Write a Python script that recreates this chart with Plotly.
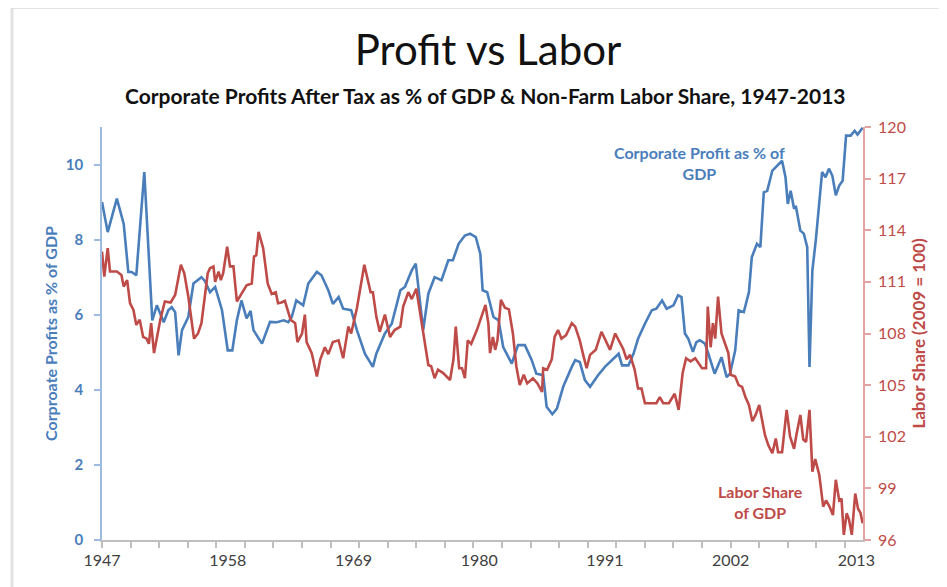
import plotly.graph_objects as go

# corporate profits after tax, % of GDP (left axis)
profit_year = [1947.0, 1947.5, 1948.3, 1948.9, 1949.3, 1949.6, 1950.0, 1950.7, 1951.4, 1951.8,
               1952.4, 1952.8, 1953.1, 1953.4, 1953.7, 1954.0, 1954.55, 1955.0, 1955.7, 1956.0,
               1956.45, 1956.9, 1957.5, 1958.0, 1958.4, 1958.8, 1959.2, 1959.65, 1960.0, 1960.25,
               1961.0, 1961.7, 1962.3, 1962.9, 1963.3, 1963.6, 1964.0, 1964.6, 1965.05, 1965.8,
               1966.2, 1966.8, 1967.2, 1967.7, 1968.1, 1968.8, 1969.3, 1970.0, 1970.7, 1971.0,
               1971.75, 1972.35, 1973.1, 1973.5, 1974.1, 1974.45, 1975.1, 1975.55, 1976.1, 1976.7,
               1977.3, 1977.7, 1978.2, 1978.75, 1979.2, 1979.7, 1980.1, 1980.3, 1980.7, 1981.25,
               1981.7, 1982.1, 1982.85, 1983.4, 1984.0, 1984.6, 1985.0, 1985.6, 1985.9, 1986.4,
               1986.8, 1987.35, 1988.1, 1988.4, 1988.8, 1989.25, 1989.7, 1990.4, 1991.0, 1991.6,
               1992.2, 1992.5, 1993.05, 1993.5, 1993.9, 1994.5, 1995.1, 1995.5, 1996.0, 1996.4,
               1997.0, 1997.4, 1997.7, 1998.0, 1998.3, 1998.7, 1999.0, 1999.3, 1999.75, 2000.05,
               2000.6, 2001.2, 2001.65, 2001.95, 2002.4, 2002.7, 2003.15, 2003.6, 2003.85, 2004.3,
               2004.6, 2004.9, 2005.2, 2005.65, 2006.1, 2006.5, 2006.8, 2007.0, 2007.25, 2007.55,
               2007.7, 2008.1, 2008.4, 2008.7, 2008.9, 2009.15, 2009.45, 2009.75, 2010.0, 2010.3,
               2010.6, 2010.9, 2011.2, 2011.5, 2011.8, 2012.1, 2012.5, 2012.85, 2013.1, 2013.55]
profit_pct = [9.0, 8.2, 9.09, 8.42, 7.14, 7.14, 7.05, 9.8, 5.85, 6.25,
              5.8, 6.12, 6.2, 6.07, 4.92, 5.59, 5.94, 6.83, 7.0, 6.9,
              6.6, 6.74, 6.12, 5.05, 5.05, 5.85, 6.38, 5.9, 6.1, 5.59,
              5.23, 5.81, 5.8, 5.85, 5.8, 5.94, 6.38, 6.25, 6.83, 7.14,
              7.05, 6.65, 6.29, 6.47, 6.16, 6.12, 5.59, 4.96, 4.61, 4.96,
              5.5, 5.76, 6.65, 6.74, 7.18, 7.36, 5.59, 6.56, 7.0, 6.92,
              7.45, 7.45, 7.89, 8.11, 8.16, 8.07, 7.62, 6.65, 6.6, 5.94,
              5.85, 5.14, 4.7, 5.19, 5.19, 4.79, 4.43, 4.39, 3.55, 3.35,
              3.5, 4.08, 4.61, 4.79, 4.74, 4.26, 4.08, 4.39, 4.61, 4.79,
              4.96, 4.65, 4.65, 4.96, 5.36, 5.76, 6.12, 6.16, 6.38, 6.16,
              6.25, 6.52, 6.47, 5.5, 5.36, 5.01, 5.27, 5.32, 5.23, 4.96,
              4.43, 4.87, 4.34, 4.43, 5.05, 6.12, 6.07, 6.6, 7.53, 7.89,
              7.8, 9.26, 9.3, 9.84, 9.97, 10.1, 9.66, 8.95, 9.3, 8.82,
              8.9, 8.24, 8.16, 7.8, 4.61, 7.18, 7.98, 8.95, 9.8, 9.66,
              9.89, 9.7, 9.18, 9.44, 9.57, 10.77, 10.77, 10.9, 10.8, 10.98]

# non-farm labor share index, 2009 = 100 (right axis)
labor_year = [1947.0, 1947.2, 1947.5, 1947.7, 1948.3, 1948.7, 1948.9, 1949.2, 1949.45, 1949.75,
              1950.0, 1950.3, 1950.6, 1950.9, 1951.1, 1951.3, 1951.55, 1952.1, 1952.5, 1953.0,
              1953.4, 1953.9, 1954.2, 1954.55, 1955.05, 1955.4, 1955.7, 1956.25, 1956.45, 1956.75,
              1956.9, 1957.2, 1957.4, 1957.6, 1957.95, 1958.2, 1958.5, 1958.8, 1959.2, 1959.65,
              1960.1, 1960.3, 1960.5, 1960.7, 1961.1, 1961.5, 1961.85, 1962.2, 1962.4, 1962.7,
              1963.0, 1963.5, 1963.9, 1964.1, 1964.5, 1964.75, 1964.9, 1965.35, 1965.8, 1966.1,
              1966.5, 1966.8, 1967.2, 1967.7, 1968.1, 1968.55, 1968.8, 1969.3, 1969.95, 1970.3,
              1970.5, 1970.7, 1971.0, 1971.3, 1971.75, 1972.2, 1972.6, 1973.1, 1973.35, 1973.8,
              1974.1, 1974.5, 1974.9, 1975.2, 1975.55, 1975.8, 1976.1, 1976.4, 1976.85, 1977.45,
              1977.75, 1977.95, 1978.25, 1978.5, 1978.75, 1979.0, 1979.3, 1979.8, 1980.2, 1980.55,
              1980.8, 1980.95, 1981.2, 1981.4, 1981.6, 1981.9, 1982.25, 1982.6, 1982.95, 1983.25,
              1983.55, 1983.9, 1984.2, 1984.7, 1985.1, 1985.5, 1985.6, 1985.95, 1986.35, 1986.6,
              1986.9, 1987.2, 1987.6, 1988.1, 1988.4, 1988.8, 1989.1, 1989.4, 1989.7, 1990.2,
              1990.7, 1991.1, 1991.45, 1991.9, 1992.2, 1992.6, 1992.9, 1993.2, 1993.6, 1993.9,
              1994.2, 1994.5, 1995.0, 1995.5, 1995.8, 1996.1, 1996.6, 1997.1, 1997.45, 1997.8,
              1998.1, 1998.5, 1998.9, 1999.5, 1999.85, 2000.0, 2000.25, 2000.45, 2000.65, 2000.9,
              2001.2, 2001.5, 2001.8, 2002.0, 2002.4, 2002.7, 2003.0, 2003.3, 2003.6, 2003.9,
              2004.2, 2004.5, 2004.75, 2005.0, 2005.3, 2005.65, 2005.95, 2006.15, 2006.5, 2006.9,
              2007.2, 2007.55, 2007.75, 2008.1, 2008.35, 2008.6, 2008.9, 2009.15, 2009.4, 2009.75,
              2010.1, 2010.35, 2010.65, 2010.95, 2011.2, 2011.5, 2011.7, 2011.9, 2012.15, 2012.35,
              2012.6, 2012.9, 2013.15, 2013.35, 2013.55]
labor_idx = [112.76, 111.3, 112.96, 111.6, 111.6, 111.4, 110.73, 111.1, 109.76, 109.37,
             108.5, 108.8, 107.8, 107.7, 107.4, 108.6, 106.86, 108.8, 109.86, 109.8,
             110.24, 111.99, 111.5, 110.15, 107.7, 108.0, 108.6, 111.5, 111.8, 111.9,
             111.0, 111.6, 111.1, 111.5, 113.05, 111.9, 111.9, 109.86, 110.3, 110.8,
             110.9, 112.47, 112.55, 113.9, 112.96, 110.9, 110.3, 110.4, 109.76, 109.8,
             109.9, 108.8, 108.6, 107.5, 108.0, 109.1, 107.5, 106.86, 105.5, 106.5,
             107.2, 106.8, 107.5, 107.6, 106.56, 108.4, 108.0, 109.47, 112.0, 110.9,
             110.4, 110.4, 108.98, 108.1, 109.1, 107.8, 108.2, 108.4, 109.56, 110.4,
             110.0, 110.6, 108.8, 107.6, 106.17, 106.1, 105.4, 105.9, 105.7, 105.3,
             106.5, 108.4, 105.98, 105.98, 105.4, 107.6, 107.4, 108.2, 109.0, 109.66,
             108.6, 106.86, 107.8, 107.05, 107.6, 109.95, 109.5, 109.4, 108.0, 106.1,
             105.0, 105.6, 105.1, 105.4, 105.1, 104.6, 105.98, 105.9, 106.5, 107.8,
             108.2, 107.7, 107.9, 108.6, 108.4, 107.6, 106.76, 105.98, 106.76, 107.05,
             108.1, 107.5, 107.05, 108.0, 107.6, 107.1, 106.5, 106.76, 105.9, 104.8,
             104.8, 103.95, 103.95, 103.95, 104.3, 103.95, 103.95, 104.5, 103.56, 105.7,
             106.56, 106.38, 106.56, 105.98, 105.98, 109.56, 107.2, 108.6, 107.7, 110.15,
             108.0, 107.4, 106.86, 105.6, 105.5, 105.0, 104.9, 104.3, 103.85, 102.9,
             103.3, 103.85, 102.9, 102.1, 101.5, 101.04, 101.9, 101.1, 101.1, 103.56,
             102.0, 101.3, 102.1, 103.27, 101.85, 101.7, 103.56, 99.97, 100.7, 99.8,
             97.94, 98.3, 97.94, 97.45, 99.5, 98.3, 98.4, 96.3, 97.55, 97.2,
             96.3, 98.7, 97.8, 97.6, 96.97]

label_years = [1947, 1958, 1969, 1980, 1991, 2002, 2013]

BLUE = "#4a7ebb"
RED = "#be4b48"
FONT = "Lato"

# the page adds an 8px body margin, so the figure is drawn 8px smaller
W, H = 939, 579
ML, MR, MT, MB = 94, 84, 119, 47
plot_w = W - ML - MR
plot_h = H - MT - MB

fig = go.Figure()

fig.add_trace(go.Scatter(x=profit_year, y=profit_pct, mode="lines",
                         line=dict(color=BLUE, width=2.6), name="Corporate Profit as % of GDP"))
fig.add_trace(go.Scatter(x=labor_year, y=labor_idx, mode="lines", yaxis="y2",
                         line=dict(color=RED, width=2.6), name="Labor Share of GDP"))

fig.update_layout(
    width=W, height=H,
    margin=dict(l=ML, r=MR, t=MT, b=MB),
    paper_bgcolor="white", plot_bgcolor="white",
    showlegend=False,
    font=dict(family=FONT, color="#404040"),
    title=dict(text="Profit vs Labor", x=(488 - 8) / W, xanchor="center", y=1 - 42 / H,
               yanchor="middle", font=dict(family=FONT, size=42, color="#111111")),
    xaxis=dict(
        range=[1947, 2013.58], tickmode="array", tickvals=label_years,
        ticktext=[str(y) for y in label_years], ticks="", showgrid=False, zeroline=False,
        showline=True, linecolor="#bfbfbf", linewidth=1.5, ticklabelstandoff=5,
        tickfont=dict(size=16, color="#404040"),
        minor=dict(tick0=1947, dtick=2.5, ticks="outside", ticklen=6, tickcolor="#bfbfbf",
                   tickwidth=1.5, showgrid=False),
    ),
    yaxis=dict(
        range=[0, 11], tickvals=[0, 2, 4, 6, 8, 10], showgrid=False, zeroline=False,
        showline=True, linecolor="#9dbbdf", linewidth=1.8, ticks="outside", ticklen=6,
        tickcolor="#9dbbdf", tickwidth=1.5, ticklabelstandoff=8,
        tickfont=dict(size=15, color=BLUE, weight="bold"),
        title=dict(text="Corproate Profits as % of GDP", standoff=4,
                   font=dict(size=16, color=BLUE, weight="bold")),
    ),
    yaxis2=dict(
        range=[96, 120], tickvals=list(range(96, 121, 3)), overlaying="y", side="right",
        showgrid=False, zeroline=False, showline=True, linecolor="#e3a3a3", linewidth=1.8,
        ticks="outside", ticklen=6, tickcolor="#e3a3a3", tickwidth=1.5, ticklabelstandoff=4,
        tickfont=dict(size=16, color=RED),
        title=dict(text="Labor Share (2009 = 100)", standoff=8,
                   font=dict(size=17, color=RED, weight="bold")),
    ),
)

fig.add_annotation(text="Corporate Profits After Tax as % of GDP & Non-Farm Labor Share, 1947-2013",
                   xref="paper", yref="paper", x=(486 - 8 - ML) / plot_w, y=1 + 31 / plot_h,
                   xanchor="center", yanchor="middle", showarrow=False,
                   font=dict(family=FONT, size=21, color="#111111", weight="bold"))
fig.add_annotation(text="Corporate Profit as % of<br>GDP", x=1999.3, y=10.05, xref="x", yref="y",
                   showarrow=False, xanchor="center", yanchor="middle",
                   font=dict(size=16, color=BLUE, weight="bold"))
fig.add_annotation(text="Labor Share<br>of GDP", x=2004.6, y=1.0, xref="x", yref="y",
                   showarrow=False, xanchor="center", yanchor="middle",
                   font=dict(size=16, color=RED, weight="bold"))

# light slide frame at the top and left
fx = (12 - 8 - ML) / plot_w
fy = 1 + (MT + 0.5) / plot_h
fig.add_shape(type="path", xref="paper", yref="paper",
              path=f"M {fx},-0.2 L {fx},{fy} L 1.2,{fy}",
              line=dict(color="#e2e2e2", width=3))

fig.write_html("out.html")
